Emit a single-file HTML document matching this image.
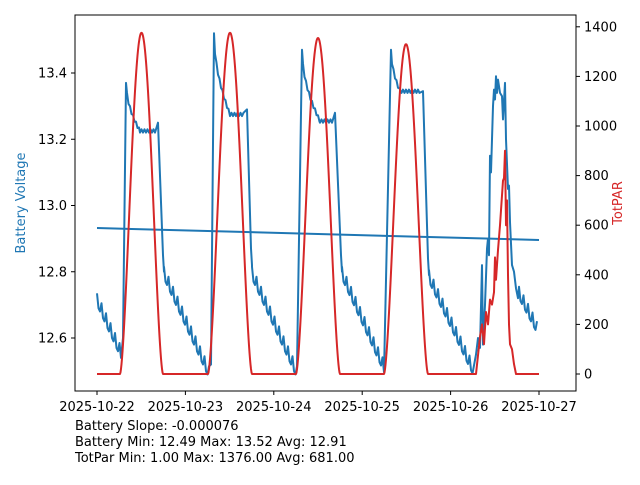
<!DOCTYPE html>
<html><head><meta charset="utf-8"><style>
body{margin:0;background:#fff}
svg text{font-family:"DejaVu Sans","Liberation Sans",sans-serif;font-size:13px;fill:#000}
</style></head><body>
<svg id="s" width="640" height="480" xmlns="http://www.w3.org/2000/svg">
<rect width="640" height="480" fill="#fff"/>
<g id="plot"></g>
<rect x="75" y="15" width="501" height="376" fill="none" stroke="#000" stroke-width="1"/>
<g id="ticks" stroke="#000" stroke-width="1"></g>
<g id="labels"></g>
<text x="0" y="0" transform="translate(25,203) rotate(-90)" text-anchor="middle" style="fill:#1f77b4">Battery Voltage</text>
<text x="0" y="0" transform="translate(622,203) rotate(-90)" text-anchor="middle" style="fill:#d62728">TotPAR</text>
<text x="75" y="430">Battery Slope: -0.000076</text>
<text x="75" y="446">Battery Min: 12.49 Max: 13.52 Avg: 12.91</text>
<text x="75" y="462">TotPar Min: 1.00 Max: 1376.00 Avg: 681.00</text>
</svg>
<script>
const vy=v=>205.5-(v-13.0)*331.25, py=p=>374-p*0.248;
const P=document.getElementById('plot'),T=document.getElementById('ticks'),L=document.getElementById('labels');
function path(pts,col){const e=document.createElementNS('http://www.w3.org/2000/svg','path');e.setAttribute('d','M'+pts.map(p=>p[0].toFixed(1)+','+p[1].toFixed(1)).join('L'));e.setAttribute('fill','none');e.setAttribute('stroke',col);e.setAttribute('stroke-width','2');e.setAttribute('stroke-linejoin','round');P.appendChild(e);}
function txt(x,y,s,a){const e=document.createElementNS('http://www.w3.org/2000/svg','text');e.setAttribute('x',x);e.setAttribute('y',y);e.setAttribute('text-anchor',a);e.textContent=s;L.appendChild(e);}
function line(x1,y1,x2,y2){const e=document.createElementNS('http://www.w3.org/2000/svg','line');e.setAttribute('x1',x1);e.setAttribute('y1',y1);e.setAttribute('x2',x2);e.setAttribute('y2',y2);T.appendChild(e);}
let r=[[97,374]];
[[120,142,163,1376],[208,231,252,1376],[296,319,340,1355],[384,409,428,1330]].forEach(([a,m,b,pk])=>{
 for(let x=a;x<=b;x+=0.5){let t=(x-a)/(b-a);let p=pk*Math.pow(Math.sin(Math.PI*t),1.6);r.push([x,py(p)]);}
});
[[476,0],[480,150],[482,200],[484,120],[486,250],[488,200],[490,300],[492,280],[494,330],[495,470],[496,380],[498,500],[500,600],[502,720],[503,780],[504,790],[505,900],[506,600],[507,700],[508,400],[509,200],[510,120],[512,100],[514,40],[516,0],[539,0]].forEach(p=>r.push([p[0],py(p[1])]));
let b=[];
function decay(x0,x1,v0,v1){for(let x=x0;x<=x1;x+=1.5){let t=(x-x0)/(x1-x0);let v=v0+(v1-v0)*t;let saw=((x-x0)%4.5)<1.5?0.035:0;b.push([x,vy(v+saw-0.02)]);}}
function day(xj,vpk,xm,vm,xbump,vb,xd,vd){b.push([xj,vy(vpk)]);for(let x=xj+1;x<xm;x+=1.5){let t=(x-xj)/(xm-xj);b.push([x,vy(vpk+(vm-vpk)*Math.sqrt(t)+(x%3<1.5?0.01:0))]);}
 for(let x=xm;x<xbump-2;x+=1.5){b.push([x,vy(vm+(x%3<1.5?0.01:0))]);}
 b.push([xbump,vy(vb)]);b.push([xd,vy(vd+0.05)]);b.push([xd+1,vy(vd)]);}
decay(97,121,12.72,12.56);b.push([123,vy(12.6)]);
day(126,13.37,140,13.22,158,13.25,163,12.8);decay(164,209,12.8,12.5);b.push([211,vy(12.52)]);
day(214,13.52,230,13.27,247,13.29,251,12.82);decay(252,297,12.8,12.5);
day(302,13.47,320,13.25,335,13.28,341,12.8);decay(342,385,12.8,12.51);
day(391,13.47,400,13.34,423,13.345,428,12.79);decay(429,473,12.79,12.51);
[[476,12.55],[478,12.6],[480,12.57],[482,12.82],[483,12.58],[485,12.7],[487,12.87],[488,12.9],[489,12.85],[490,13.15],[491,13.1],[492,13.2],[493,13.3],[494,13.35],[495,13.32],[496,13.39],[497,13.34],[498,13.38],[500,13.34],[502,13.33],[503,13.26],[505,13.37],[506,13.2],[508,13.05],[509,13.06],[510,12.95],[512,12.82],[514,12.8],[516,12.75],[518,12.72]].forEach(p=>b.push([p[0],vy(p[1])]));
decay(519,538,12.74,12.63);
path(b,'#1f77b4');path([[97,228],[539,240]],'#1f77b4');path(r,'#d62728');
[12.6,12.8,13.0,13.2,13.4].forEach(v=>{let y=vy(v);line(71,y,75,y);txt(67,y+4.5,v.toFixed(1),'end');});
[0,200,400,600,800,1000,1200,1400].forEach(p=>{let y=py(p);line(576,y,580,y);txt(584,y+4.5,p,'start');});
['2025-10-22','2025-10-23','2025-10-24','2025-10-25','2025-10-26','2025-10-27'].forEach((d,i)=>{let x=97+i*88.4;line(x,391,x,395);txt(x,411,d,'middle');});
</script>
</body></html>
